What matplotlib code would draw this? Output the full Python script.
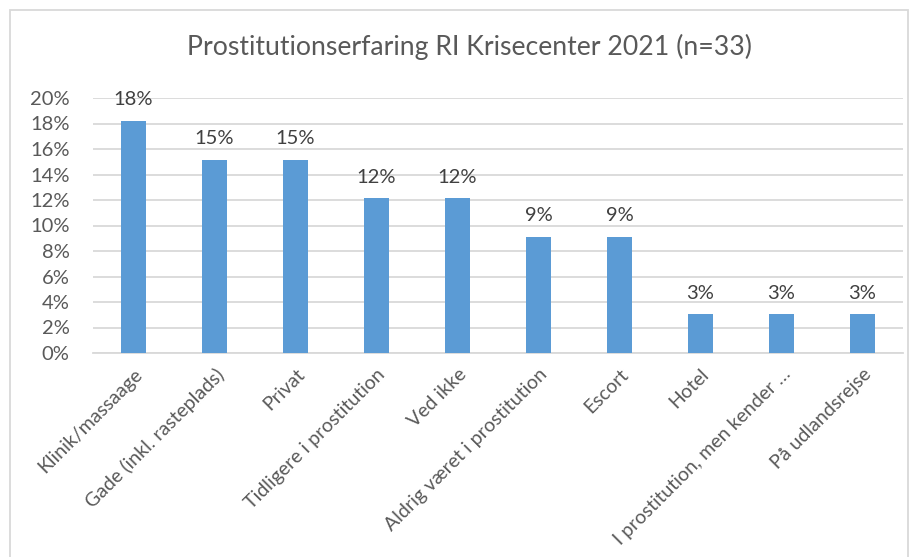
import matplotlib.pyplot as plt
from matplotlib.patches import Rectangle
from matplotlib.ticker import FuncFormatter
import numpy as np

# svarfordeling, antal kvinder pr. kategori ud af n=33
categories = [
    "Klinik/massaage",
    "Gade (inkl. rasteplads)",
    "Privat",
    "Tidligere i prostitution",
    "Ved ikke",
    "Aldrig været i prostitution",
    "Escort",
    "Hotel",
    "I prostitution, men kender …",
    "På udlandsrejse",
]
counts = [6, 5, 5, 4, 4, 3, 3, 1, 1, 1]
n_total = 33
title = "Prostitutionserfaring RI Krisecenter 2021 (n=33)"

plt.rcParams["font.family"] = ["Lato", "DejaVu Sans"]
text_color = "#595959"
bar_color = "#5b9bd5"
grid_color = "#d9d9d9"

shares = np.array(counts) / n_total * 100

fig = plt.figure(figsize=(9.19, 5.57), dpi=100)
ax = fig.add_axes([93 / 919, 1 - 353 / 557, 810 / 919, 255 / 557])

x = np.arange(len(categories))
bars = ax.bar(x, shares, width=0.31, color=bar_color, zorder=3)

for rect, val in zip(bars, shares):
    ax.text(rect.get_x() + rect.get_width() / 2, val + 1.0, f"{val:.0f}%",
            ha="center", va="bottom", fontsize=14.5, color="#404040")

ax.set_xlim(-0.5, len(categories) - 0.5)
ax.set_ylim(0, 20)
ax.set_yticks(np.arange(0, 21, 2))
ax.yaxis.set_major_formatter(FuncFormatter(lambda v, p: f"{v:.0f}%"))
ax.grid(axis="y", color=grid_color, linewidth=1.3, zorder=0)
for side in ["top", "right", "left"]:
    ax.spines[side].set_visible(False)
ax.spines["bottom"].set_color(grid_color)
ax.spines["bottom"].set_linewidth(1.3)
ax.tick_params(axis="both", length=0, colors=text_color, labelsize=14.5)
ax.tick_params(axis="y", pad=17)
ax.set_xticks(x)
ax.set_xticklabels(categories, rotation=45, ha="right", rotation_mode="anchor",
                   fontsize=14)
ax.tick_params(axis="x", pad=9)

fig.text(470 / 919, 1 - 47 / 557, title, ha="center", va="center",
         fontsize=19.2, color=text_color)

# ramme rundt om diagrammet
fig.patches.append(Rectangle((10 / 919, -0.05), 898 / 919, 1 - 10 / 557 + 0.05,
                             transform=fig.transFigure, fill=False,
                             edgecolor="#d9d9d9", linewidth=1.3))

fig.savefig("out.png", dpi=100)
